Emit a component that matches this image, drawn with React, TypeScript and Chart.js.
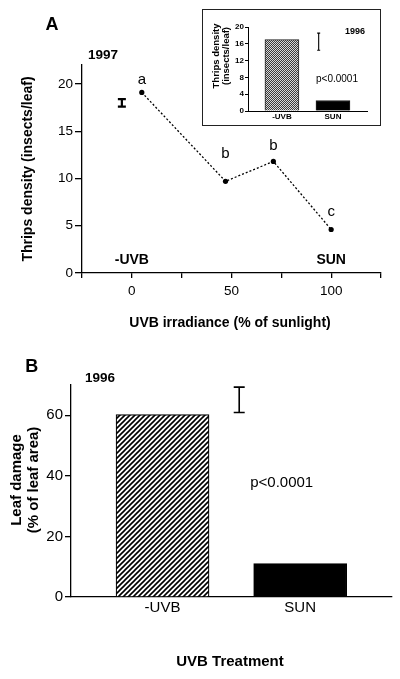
import React, { useEffect, useRef } from 'react';
import { Chart, registerables } from 'chart.js';

Chart.register(...registerables);

const FONT = "'Liberation Sans', Arial, Helvetica, sans-serif";

// ---------- Panel A (1997): thrips density vs UVB irradiance ----------
const uvbIrradiance = [5, 47, 71, 100];
const thripsDensity = [19.1, 9.7, 11.8, 4.6];
const significanceLetters = ['a', 'b', 'b', 'c'];
const letterLevels = [20.45, 12.6, 13.5, 6.5];
const xTicksA = [-25, 0, 25, 50, 75, 100, 125];
const xLabelsA = [0, 50, 100];
const yTicksA = [0, 5, 10, 15, 20];
const treatmentEndLabels = ['-UVB', 'SUN'];
const treatmentEndX = [0, 100];
const errorBarA = [-5, 18, 0.4]; // x, mean, half-range

// ---------- Inset (1996): thrips density by treatment ----------
const treatments = ['-UVB', 'SUN'];
const insetThrips = [17, 2.5];
const yTicksInset = [0, 4, 8, 12, 16, 20];
const errorBarInset = [1.72, 16.5, 2.05];

// ---------- Panel B (1996): leaf damage by treatment ----------
const leafDamage = [60.2, 11];
const yTicksB = [0, 20, 40, 60];
const errorBarB = [1.557, 65.1, 4.2];

const font = (size: number, bold = false) => ({ family: FONT, size, weight: bold ? 'bold' : 'normal' } as any);

function drawErrorBar(ctx: CanvasRenderingContext2D, xs: any, ys: any, e: number[], capW: number, lw: number) {
  const px = xs.getPixelForValue(e[0]);
  const top = ys.getPixelForValue(e[1] + e[2]);
  const bot = ys.getPixelForValue(e[1] - e[2]);
  ctx.save();
  ctx.strokeStyle = '#000';
  ctx.lineWidth = lw;
  ctx.beginPath();
  ctx.moveTo(px, top);
  ctx.lineTo(px, bot);
  ctx.moveTo(px - capW / 2, top);
  ctx.lineTo(px + capW / 2, top);
  ctx.moveTo(px - capW / 2, bot);
  ctx.lineTo(px + capW / 2, bot);
  ctx.stroke();
  ctx.restore();
}

function text(ctx: CanvasRenderingContext2D, s: string, x: number, y: number, f: string, rot = 0) {
  ctx.save();
  ctx.font = f;
  ctx.fillStyle = '#000';
  ctx.textAlign = 'center';
  ctx.textBaseline = 'middle';
  ctx.translate(x, y);
  if (rot) ctx.rotate(rot);
  ctx.fillText(s, 0, 0);
  ctx.restore();
}

function hatchPattern(ctx: CanvasRenderingContext2D) {
  const c = document.createElement('canvas');
  c.width = 5;
  c.height = 5;
  const g = c.getContext('2d')!;
  g.fillStyle = '#fff';
  g.fillRect(0, 0, 5, 5);
  g.strokeStyle = '#000';
  g.lineWidth = 1.6;
  g.beginPath();
  g.moveTo(-1, 6); g.lineTo(6, -1);
  g.moveTo(-1, 1); g.lineTo(1, -1);
  g.moveTo(4, 6); g.lineTo(6, 4);
  g.stroke();
  return ctx.createPattern(c, 'repeat')!;
}

function checkerPattern(ctx: CanvasRenderingContext2D) {
  const c = document.createElement('canvas');
  c.width = 2;
  c.height = 2;
  const g = c.getContext('2d')!;
  g.fillStyle = '#d8d8d8';
  g.fillRect(0, 0, 2, 2);
  g.fillStyle = '#3a3a3a';
  g.fillRect(0, 0, 1, 1);
  g.fillRect(1, 1, 1, 1);
  return ctx.createPattern(c, 'repeat')!;
}

const axisCommon = (size: number, bold: boolean, tickLen: number, pad: number, lw: number, drawTicks = true) => ({
  ticks: { font: font(size, bold), color: '#000', padding: pad, autoSkip: false, maxRotation: 0 },
  grid: { drawOnChartArea: false, drawTicks, tickLength: tickLen, color: '#000', lineWidth: lw },
  border: { color: '#000', width: lw },
});

export default function App() {
  const refA = useRef<HTMLCanvasElement>(null);
  const refI = useRef<HTMLCanvasElement>(null);
  const refB = useRef<HTMLCanvasElement>(null);

  useEffect(() => {
    const base = {
      responsive: false,
      animation: false as const,
      events: [] as any[],
      plugins: { legend: { display: false }, tooltip: { enabled: false } },
    };

    // ---------- Panel A ----------
    const chartA = new Chart(refA.current!, {
      type: 'line',
      data: {
        datasets: [
          {
            data: uvbIrradiance.map((x, i) => ({ x, y: thripsDensity[i] })),
            borderColor: '#000',
            borderWidth: 1.3,
            borderDash: [2, 2],
            pointRadius: 2.6,
            pointBackgroundColor: '#000',
            pointBorderWidth: 0,
            tension: 0,
            fill: false,
          },
        ],
      },
      options: {
        ...base,
        layout: { padding: { left: 0, right: 19, top: 65, bottom: 0 } },
        scales: {
          x: {
            type: 'linear',
            min: -25,
            max: 125,
            ...axisCommon(13.5, false, 5, 5, 1.3),
            ticks: {
              ...axisCommon(13.5, false, 5, 5, 1.3).ticks,
              callback: (v: any) => (xLabelsA.includes(Number(v)) ? String(v) : ''),
            },
            afterBuildTicks: (s: any) => { s.ticks = xTicksA.map((value) => ({ value })); },
            afterFit: (s: any) => { s.height = 67; },
          },
          y: {
            type: 'linear',
            min: 0,
            max: 22,
            ...axisCommon(13.5, false, 7, 2, 1.3),
            afterBuildTicks: (s: any) => { s.ticks = yTicksA.map((value) => ({ value })); },
            afterFit: (s: any) => { s.width = 82; },
          },
        },
      },
      plugins: [
        {
          id: 'annotA',
          afterDraw(chart: any) {
            const { ctx, scales } = chart;
            const xs = scales.x, ys = scales.y;
            text(ctx, 'A', 52, 25, `bold 18px ${FONT}`);
            text(ctx, '1997', 103, 55, `bold 13.5px ${FONT}`);
            significanceLetters.forEach((l, i) =>
              text(ctx, l, xs.getPixelForValue(uvbIrradiance[i]), ys.getPixelForValue(letterLevels[i]), `15px ${FONT}`));
            treatmentEndLabels.forEach((l, i) =>
              text(ctx, l, xs.getPixelForValue(treatmentEndX[i]), ys.getPixelForValue(1.4), `bold 14px ${FONT}`));
            drawErrorBar(ctx, xs, ys, errorBarA, 8, 2.2);
            text(ctx, 'UVB irradiance (% of sunlight)', 230, 323, `bold 14px ${FONT}`);
            text(ctx, 'Thrips density (insects/leaf)', 28.5, 169, `bold 14px ${FONT}`, -Math.PI / 2);
          },
        },
      ],
    } as any);

    // ---------- Inset ----------
    const ctxI = refI.current!.getContext('2d')!;
    const chartI = new Chart(refI.current!, {
      type: 'bar',
      data: {
        datasets: [
          {
            data: treatments.map((_, i) => ({ x: i + 1, y: insetThrips[i] })),
            backgroundColor: [checkerPattern(ctxI), '#000'],
            borderColor: '#222',
            borderWidth: 1,
            borderSkipped: 'start',
            barThickness: 34,
          },
        ],
      },
      options: {
        ...base,
        layout: { padding: { left: 0, right: 13, top: 17, bottom: 0 } },
        scales: {
          x: {
            type: 'linear',
            offset: false,
            min: 0.335,
            max: 2.667,
            ...axisCommon(8, true, 0, 1, 1, false),
            ticks: {
              ...axisCommon(8, true, 0, 1, 1).ticks,
              callback: (v: any) => treatments[Number(v) - 1] ?? '',
            },
            afterBuildTicks: (s: any) => { s.ticks = treatments.map((_, i) => ({ value: i + 1 })); },
            afterFit: (s: any) => { s.height = 14; },
          },
          y: {
            type: 'linear',
            min: 0,
            max: 20,
            ...axisCommon(8, true, 3, 1, 1),
            afterBuildTicks: (s: any) => { s.ticks = yTicksInset.map((value) => ({ value })); },
            afterFit: (s: any) => { s.width = 45; },
          },
        },
      },
      plugins: [
        {
          id: 'annotI',
          afterDraw(chart: any) {
            const { ctx, scales } = chart;
            text(ctx, '1996', 152, 22, `bold 9px ${FONT}`);
            text(ctx, 'p<0.0001', 134, 69.5, `10px ${FONT}`);
            drawErrorBar(ctx, scales.x, scales.y, errorBarInset, 3, 1.1);
            text(ctx, 'Thrips density', 13.7, 46, `bold 9.5px ${FONT}`, -Math.PI / 2);
            text(ctx, '(insects/leaf)', 23.7, 46, `bold 9.5px ${FONT}`, -Math.PI / 2);
          },
        },
      ],
    } as any);

    // ---------- Panel B ----------
    const ctxB = refB.current!.getContext('2d')!;
    const chartB = new Chart(refB.current!, {
      type: 'bar',
      data: {
        datasets: [
          {
            data: treatments.map((_, i) => ({ x: i + 1, y: leafDamage[i] })),
            backgroundColor: [hatchPattern(ctxB), '#000'],
            borderColor: '#000',
            borderWidth: 1.2,
            borderSkipped: 'start',
            barThickness: 93,
          },
        ],
      },
      options: {
        ...base,
        layout: { padding: { left: 0, right: 8, top: 45, bottom: 0 } },
        scales: {
          x: {
            type: 'linear',
            offset: false,
            min: 0.335,
            max: 2.667,
            ...axisCommon(15, false, 0, 2, 1.3, false),
            ticks: {
              ...axisCommon(15, false, 0, 2, 1.3).ticks,
              callback: (v: any) => treatments[Number(v) - 1] ?? '',
            },
            afterBuildTicks: (s: any) => { s.ticks = treatments.map((_, i) => ({ value: i + 1 })); },
            afterFit: (s: any) => { s.height = 82; },
          },
          y: {
            type: 'linear',
            min: 0,
            max: 70,
            ...axisCommon(15, false, 6, 2, 1.3),
            afterBuildTicks: (s: any) => { s.ticks = yTicksB.map((value) => ({ value })); },
            afterFit: (s: any) => { s.width = 71; },
          },
        },
      },
      plugins: [
        {
          id: 'annotB',
          afterDraw(chart: any) {
            const { ctx, scales } = chart;
            text(ctx, 'B', 31.7, 26.7, `bold 18px ${FONT}`);
            text(ctx, '1996', 100, 38.3, `bold 13.5px ${FONT}`);
            text(ctx, 'p<0.0001', 281.7, 142.7, `15px ${FONT}`);
            drawErrorBar(ctx, scales.x, scales.y, errorBarB, 11, 1.6);
            text(ctx, 'UVB Treatment', 230, 322, `bold 15px ${FONT}`);
            text(ctx, 'Leaf damage', 17, 140, `bold 15px ${FONT}`, -Math.PI / 2);
            text(ctx, '(% of leaf area)', 34, 140, `bold 15px ${FONT}`, -Math.PI / 2);
          },
        },
      ],
    } as any);

    return () => {
      chartA.destroy();
      chartI.destroy();
      chartB.destroy();
    };
  }, []);

  return (
    <div style={{ position: 'absolute', left: 0, top: 0, width: 400, height: 679, background: '#fff', overflow: 'hidden' }}>
      <canvas ref={refA} width={400} height={340} style={{ position: 'absolute', left: 0, top: 0 }} />
      <div
        style={{
          position: 'absolute',
          left: 202,
          top: 9,
          width: 179,
          height: 117,
          boxSizing: 'border-box',
          border: '1px solid #222',
          background: '#fff',
        }}
      >
        <canvas ref={refI} width={177} height={115} style={{ position: 'absolute', left: 0, top: 0 }} />
      </div>
      <canvas ref={refB} width={400} height={339} style={{ position: 'absolute', left: 0, top: 340 }} />
    </div>
  );
}
